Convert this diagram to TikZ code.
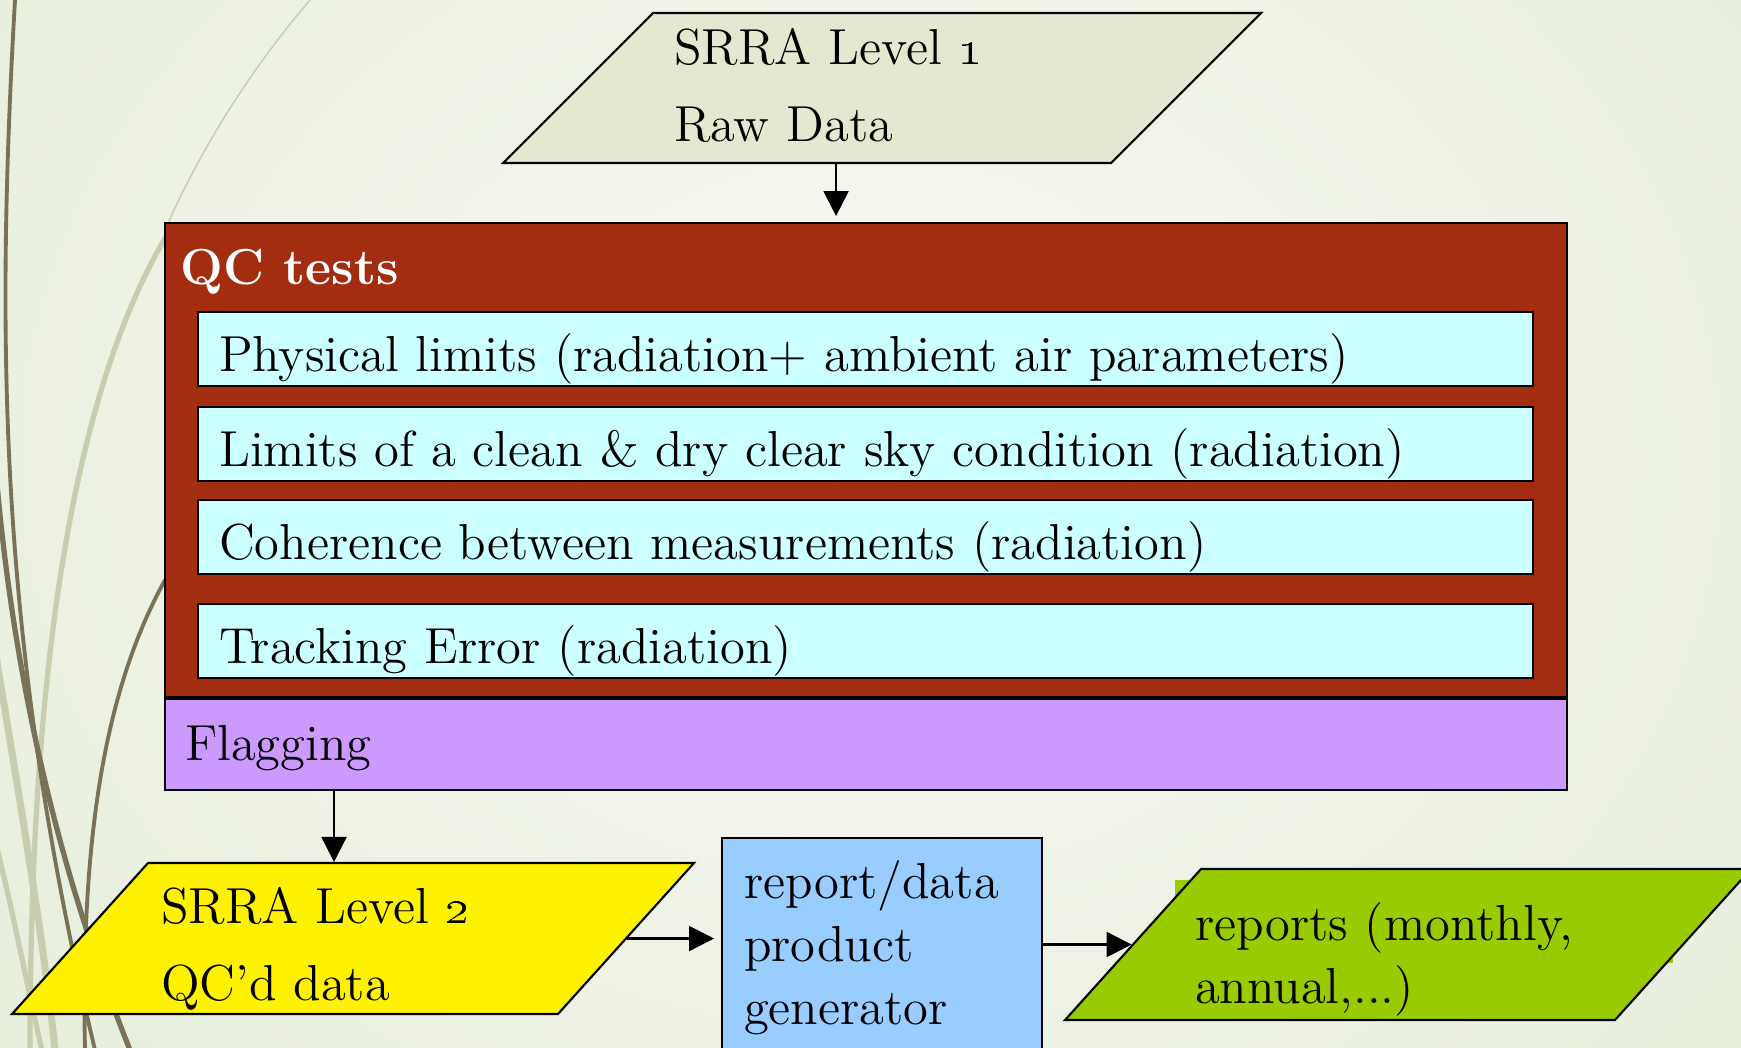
\documentclass[tikz,border=0pt]{standalone}
\usepackage{tikz}
\usetikzlibrary{positioning,shapes.geometric,arrows.meta,calc}

\definecolor{bgouter}{RGB}{224,233,208}
\definecolor{bginner}{RGB}{247,249,243}
\definecolor{wispdark}{RGB}{122,114,88}
\definecolor{wisppale}{RGB}{200,205,176}
\definecolor{rawfill}{RGB}{227,232,208}
\definecolor{qcred}{RGB}{163,45,16}
\definecolor{testcyan}{RGB}{204,255,255}
\definecolor{flagpurple}{RGB}{204,153,255}
\definecolor{genblue}{RGB}{153,204,255}
\definecolor{repgreen}{RGB}{153,204,0}

\begin{document}
\begin{tikzpicture}[
    font=\Large,
    box/.style={
        draw,
        line width=0.6pt,
        inner ysep=0pt,
        align=left
    },
    qcframe/.style={box, fill=qcred, minimum width=14.02cm, minimum height=4.74cm},
    testrow/.style={box, fill=testcyan, text width=12.93cm, inner xsep=0.21cm,
        minimum height=0.74cm, text height=0.44cm, text depth=0pt},
    flagbar/.style={box, fill=flagpurple, text width=13.62cm, inner xsep=0.2cm,
        minimum height=0.91cm, text height=0.31cm, text depth=0pt},
    genbox/.style={box, fill=genblue, text width=2.76cm, inner xsep=0.22cm, inner ysep=0.22cm},
    para/.style={
        draw,
        line width=0.6pt,
        trapezium,
        trapezium left angle=45,
        trapezium right angle=135,
        inner ysep=0pt,
        align=left
    },
    arrow/.style={-{Triangle[length=0.25cm, width=0.25cm]}, line width=0.6pt}
]

% ============================================================
% BACKGROUND
% ============================================================
\useasboundingbox (0,0) rectangle (17.41,-10.47);
\fill[bgouter] (0,0) rectangle (17.41,-10.47);
\begin{scope}
    \clip (0,0) rectangle (17.41,-10.47);
    \shade[inner color=bginner, outer color=bgouter] (8.7,-4.6) ellipse (17 and 14);
    \draw[wisppale, line width=0.4pt] (3.1,0) .. controls (2.5,-0.7) and (2.0,-1.5) .. (1.65,-2.3);
    \draw[wisppale, line width=1.5pt] (1.7,-2.3) .. controls (0.9,-3.6) and (0.3,-6.0) .. (0.3,-10.5);
    \draw[wisppale, line width=2pt] (-0.05,-6.5) .. controls (0.2,-8) and (0.45,-9.5) .. (0.55,-10.5);
    \draw[wisppale, line width=1.5pt] (-0.05,-8.4) .. controls (0.15,-9.2) and (0.3,-10) .. (0.42,-10.5);
    \draw[wispdark, line width=1.1pt] (0.15,0) .. controls (-0.05,-3.5) and (0,-6.5) .. (0.95,-10.5);
    \draw[wispdark, line width=1.5pt] (-0.05,-4.6) .. controls (0.1,-6.5) and (0.5,-8.5) .. (1.3,-10.5);
    \draw[wispdark, line width=1.1pt] (1.65,-5.8) .. controls (1.1,-6.8) and (0.8,-8.2) .. (0.85,-10.5);
\end{scope}

% ============================================================
% RAW DATA AND QC TESTS
% ============================================================
\node[para, fill=rawfill, text width=4.16cm, inner xsep=0.21cm,
      text height=0.51cm, text depth=0.99cm,
      font=\fontsize{14.4}{22}\selectfont] (lvl1) at (8.82,-0.88)
    {SRRA Level \oldstylenums{1}\\Raw Data};

\node[qcframe, anchor=north west] (qc) at (1.64,-2.22) {};
\node[anchor=base west, inner sep=0pt, text=white, font=\Large\bfseries] (qctitle)
    at ([xshift=0.16cm, yshift=-0.62cm]qc.north west) {QC tests};

\node[testrow, anchor=north west] (row1) at ([xshift=0.33cm, yshift=-0.89cm]qc.north west)
    {Physical limits (radiation+ ambient air parameters)};
\node[testrow, below=0.19cm of row1] (row2) {Limits of a clean \& dry clear sky condition (radiation)};
\node[testrow, below=0.17cm of row2] (row3) {Coherence between measurements (radiation)};
\node[testrow, below=0.28cm of row3] (row4) {Tracking Error (radiation)};

\node[flagbar, below=0cm of qc] (flag) {Flagging};

% ============================================================
% QC'D DATA AND PRODUCTS
% ============================================================
\node[para, fill=yellow, trapezium left angle=48, trapezium right angle=132,
      text width=3.84cm, inner xsep=0.13cm, text height=0.60cm, text depth=0.91cm,
      font=\fontsize{14.4}{22}\selectfont] (lvl2) at (3.53,-9.385)
    {SRRA Level \oldstylenums{2}\\QC'd data};

\node[genbox, anchor=north west] (gen) at (7.21,-8.37) {report/data\\product\\generator};

\fill[repgreen] (11.75,-8.80) rectangle (16.73,-9.63);
\node[para, fill=repgreen, trapezium left angle=48, trapezium right angle=132,
      text width=4.26cm, inner xsep=-0.06cm, text height=0.71cm, text depth=0.80cm] (out)
    at (14.08,-9.445) {reports (monthly,\\annual,...)};

% ============================================================
% ARROWS
% ============================================================
\coordinate (a1) at ([xshift=-0.46cm]lvl1.south);
\draw[arrow, shorten >=0.06cm] (a1) -- (a1 |- qc.north);
\coordinate (a2) at ([xshift=-0.19cm]lvl2.north);
\draw[arrow] (a2 |- flag.south) -- (a2);
\draw[arrow, shorten >=0.07cm] (lvl2.east) -- (lvl2.east -| gen.west);
\draw[arrow] (out.west -| gen.east) -- (out.west);

\end{tikzpicture}
\end{document}
